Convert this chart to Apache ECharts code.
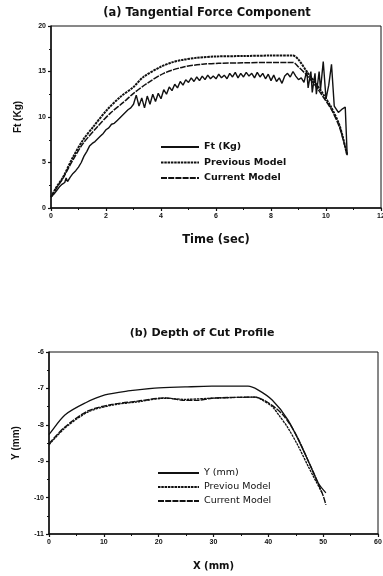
<!DOCTYPE html>
<html>
<head>
<meta charset="utf-8">
<script src="https://cdn.jsdelivr.net/npm/echarts@6/dist/echarts.min.js"></script>
<style>
  html, body { margin: 0; padding: 0; background: #fff; }
  #chart { width: 383px; height: 576px; }
</style>
</head>
<body>
<div id="chart"></div>
<script>
// (a) tangential force, measured
const ftTime = [0, 0.1, 0.2, 0.3, 0.4, 0.5, 0.55, 0.6, 0.7, 0.8, 0.9, 1.0, 1.1, 1.2, 1.3, 1.4, 1.5, 1.6, 1.7, 1.8, 1.9,
  2.0, 2.1, 2.2, 2.3, 2.4, 2.5, 2.6, 2.7, 2.8, 2.9, 3.0, 3.1, 3.2, 3.3, 3.4, 3.5, 3.6, 3.7, 3.8, 3.9,
  4.0, 4.1, 4.2, 4.3, 4.4, 4.5, 4.6, 4.7, 4.8, 4.9, 5.0, 5.1, 5.2, 5.3, 5.4, 5.5, 5.6, 5.7, 5.8, 5.9,
  6.0, 6.1, 6.2, 6.3, 6.4, 6.5, 6.6, 6.7, 6.8, 6.9, 7.0, 7.1, 7.2, 7.3, 7.4, 7.5, 7.6, 7.7, 7.8, 7.9,
  8.0, 8.1, 8.2, 8.3, 8.4, 8.5, 8.6, 8.7, 8.8, 8.9, 9.0, 9.1, 9.2, 9.3, 9.35, 9.45, 9.5, 9.6, 9.65, 9.75,
  9.8, 9.9, 10.0, 10.1, 10.2, 10.3, 10.45, 10.6, 10.7, 10.77];
const ftMeasured = [1.2, 1.5, 1.9, 2.3, 2.6, 2.8, 3.3, 2.9, 3.4, 3.8, 4.1, 4.5, 5.0, 5.7, 6.2, 6.8, 7.1, 7.3, 7.6, 7.9, 8.2,
  8.6, 8.8, 9.2, 9.3, 9.6, 9.9, 10.2, 10.5, 10.8, 11.0, 11.4, 12.4, 11.2, 12.1, 11.0, 12.3, 11.4, 12.5, 11.7, 12.6,
  12.0, 13.0, 12.5, 13.3, 12.9, 13.6, 13.2, 13.9, 13.5, 14.1, 13.8, 14.3, 13.9, 14.4, 14.0, 14.5, 14.1, 14.6, 14.2, 14.5,
  14.2, 14.7, 14.3, 14.6, 14.2, 14.8, 14.4, 14.9, 14.3, 14.8, 14.4, 14.9, 14.5, 14.8, 14.3, 14.9, 14.4, 14.8, 14.2, 14.7,
  14.0, 14.6, 13.9, 14.3, 13.7, 14.5, 14.8, 14.4, 15.0, 14.5, 14.1, 14.3, 13.8, 15.1, 13.2, 15.0, 12.7, 14.8, 12.5, 15.0,
  13.0, 16.1, 12.0, 13.5, 15.8, 11.2, 10.5, 10.9, 11.1, 5.8];

// (a) previous model
const prevTime = [0, 0.2, 0.44, 0.8, 1.17, 1.53, 2.04, 2.52, 3.0, 3.36, 3.98, 4.4, 4.82, 5.3, 6, 7, 8, 8.8, 9.0, 9.3, 9.6, 9.9, 10.2, 10.5, 10.77];
const prevForce = [1.2, 2.3, 3.4, 5.6, 7.5, 8.9, 10.8, 12.2, 13.3, 14.4, 15.5, 16.0, 16.3, 16.5, 16.65, 16.7, 16.75, 16.75, 16.3, 15.0, 13.8, 12.5, 11.0, 9.0, 5.8];

// (a) current model
const curTime = [0, 0.2, 0.44, 0.8, 1.17, 1.68, 2.15, 2.63, 3.0, 3.5, 4.1, 4.82, 5.5, 6.1, 7, 8, 8.8, 9.0, 9.3, 9.6, 9.9, 10.2, 10.5, 10.77];
const curForce = [1.2, 2.2, 3.3, 5.3, 7.1, 8.9, 10.4, 11.6, 12.6, 13.7, 14.8, 15.5, 15.8, 15.9, 15.95, 16.0, 16.0, 15.5, 14.6, 13.5, 12.2, 10.8, 8.8, 5.8];

// (b) depth of cut, measured
const depthX = [0, 0.2, 2.9, 6.6, 10.2, 14.4, 19.3, 24.8, 29.7, 36.3, 38.1, 40.7, 43.6, 46.7, 49.1, 50.5];
const depthY = [-8.27, -8.23, -7.73, -7.4, -7.18, -7.07, -6.99, -6.96, -6.94, -6.94, -7.04, -7.32, -7.87, -8.8, -9.6, -9.87];

// (b) previous model
const prevDepthX = [0, 2.9, 7.1, 11.5, 16.2, 21.2, 24.8, 29.7, 37.6, 39, 40.7, 42, 43.6, 45.5, 47.3, 49.8];
const prevDepthY = [-8.55, -8.09, -7.65, -7.46, -7.37, -7.27, -7.3, -7.27, -7.24, -7.33, -7.5, -7.75, -8.09, -8.6, -9.15, -9.87];

// (b) current model
const curDepthX = [0, 2.9, 7.1, 11.5, 16.2, 21.2, 24.8, 27, 29.7, 37.6, 39.5, 41, 42.5, 44, 45.5, 47, 48.5, 50, 50.5];
const curDepthY = [-8.52, -8.06, -7.62, -7.44, -7.35, -7.26, -7.33, -7.33, -7.27, -7.24, -7.35, -7.5, -7.7, -8.0, -8.4, -8.9, -9.4, -9.95, -10.2];

const pairs = (xs, ys) => xs.map((x, i) => [x, ys[i]]);

const font = 'Liberation Sans, Arial, sans-serif';
const wide = 'DejaVu Sans, Verdana, sans-serif';
const ink = '#111';

function axisBase(extra) {
  return Object.assign({
    axisLine: { lineStyle: { color: ink, width: 1.5 } },
    axisTick: { inside: false, length: 3, lineStyle: { color: ink, width: 1.2 } },
    minorTick: { show: true, splitNumber: 2, length: 2, lineStyle: { color: ink } },
    axisLabel: { color: ink, fontSize: 7, fontWeight: 'bold', fontFamily: font, margin: 5 },
    splitLine: { show: false },
    nameTextStyle: { color: ink, fontSize: 10, fontWeight: 'bold', fontFamily: wide }
  }, extra);
}

const chart = echarts.init(document.getElementById('chart'), null, { renderer: 'canvas' });

chart.setOption({
  backgroundColor: '#fff',
  animation: false,
  graphic: [
    { type: 'text', x: 207, y: 13, style: { text: '(a) Tangential Force Component', align: 'center', verticalAlign: 'middle',
      fontSize: 11.5, fontWeight: 'bold', fontFamily: wide, fill: ink } },
    { type: 'text', x: 202, y: 333, style: { text: '(b) Depth of Cut Profile', align: 'center', verticalAlign: 'middle',
      fontSize: 11, fontWeight: 'bold', fontFamily: wide, fill: ink } }
  ],
  grid: [
    { left: 51, top: 26, width: 330, height: 182, show: true, borderColor: ink, borderWidth: 1,
      backgroundColor: 'transparent', outerBoundsMode: 'none' },
    { left: 49, top: 352, width: 329, height: 182, show: true, borderColor: ink, borderWidth: 1,
      backgroundColor: 'transparent', outerBoundsMode: 'none' }
  ],
  xAxis: [
    axisBase({ gridIndex: 0, type: 'value', min: 0, max: 12, interval: 2,
      name: 'Time (sec)', nameLocation: 'middle', nameGap: 26,
      nameTextStyle: { color: ink, fontSize: 11.5, fontWeight: 'bold', fontFamily: wide } }),
    axisBase({ gridIndex: 1, type: 'value', min: 0, max: 60, interval: 10,
      name: 'X (mm)', nameLocation: 'middle', nameGap: 27 })
  ],
  yAxis: [
    axisBase({ gridIndex: 0, type: 'value', min: 0, max: 20, interval: 5,
      name: 'Ft (Kg)', nameLocation: 'middle', nameGap: 28,
      nameTextStyle: { color: ink, fontSize: 10, fontWeight: 'bold', fontFamily: font } }),
    axisBase({ gridIndex: 1, type: 'value', min: -11, max: -6, interval: 1,
      name: 'Y (mm)', nameLocation: 'middle', nameGap: 28,
      nameTextStyle: { color: ink, fontSize: 10, fontWeight: 'bold', fontFamily: font } })
  ],
  legend: [
    { data: ['Ft (Kg)', 'Previous Model', 'Current Model'], orient: 'vertical', left: 160, top: 142,
      padding: 0, itemWidth: 38, itemHeight: 6, itemGap: 5.5, itemStyle: { opacity: 0 },
      textStyle: { fontSize: 9.5, fontWeight: 'bold', fontFamily: wide, color: ink } },
    { data: ['Y (mm)', 'Previou Model', 'Current Model '], orient: 'vertical', left: 157, top: 468,
      padding: 0, itemWidth: 41, itemHeight: 6, itemGap: 4, itemStyle: { opacity: 0 },
      textStyle: { fontSize: 9.5, fontFamily: wide, color: ink } }
  ],
  series: [
    { name: 'Ft (Kg)', type: 'line', xAxisIndex: 0, yAxisIndex: 0, data: pairs(ftTime, ftMeasured),
      symbol: 'none', lineStyle: { color: ink, width: 1.4 }, itemStyle: { color: ink } },
    { name: 'Previous Model', type: 'line', xAxisIndex: 0, yAxisIndex: 0, data: pairs(prevTime, prevForce),
      symbol: 'none', smooth: 0.3, lineStyle: { color: ink, width: 2, type: [2.5, 0.8] }, itemStyle: { color: ink } },
    { name: 'Current Model', type: 'line', xAxisIndex: 0, yAxisIndex: 0, data: pairs(curTime, curForce),
      symbol: 'none', smooth: 0.3, lineStyle: { color: ink, width: 1.5, type: [6, 1.2] }, itemStyle: { color: ink } },
    { name: 'Y (mm)', type: 'line', xAxisIndex: 1, yAxisIndex: 1, data: pairs(depthX, depthY),
      symbol: 'none', smooth: 0.3, lineStyle: { color: ink, width: 1.3 }, itemStyle: { color: ink } },
    { name: 'Previou Model', type: 'line', xAxisIndex: 1, yAxisIndex: 1, data: pairs(prevDepthX, prevDepthY),
      symbol: 'none', smooth: 0.3, lineStyle: { color: ink, width: 1.3, type: [2.5, 0.8] }, itemStyle: { color: ink } },
    { name: 'Current Model ', type: 'line', xAxisIndex: 1, yAxisIndex: 1, data: pairs(curDepthX, curDepthY),
      symbol: 'none', smooth: 0.3, lineStyle: { color: ink, width: 1.4, type: [6, 1.2] }, itemStyle: { color: ink } }
  ]
});
</script>
</body>
</html>
